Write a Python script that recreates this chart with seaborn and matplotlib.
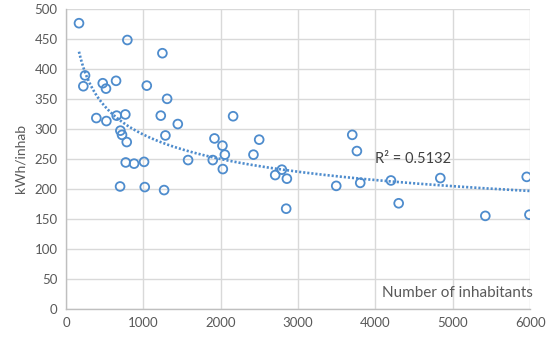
import numpy as np
import pandas as pd
import matplotlib
matplotlib.use('Agg')
import matplotlib.pyplot as plt
import seaborn as sns

# inhabitants and consumption per inhabitant
inhabitants = [168, 793, 1246, 246, 224, 475, 517, 647, 1044, 1307,
               392, 522, 655, 767, 1225, 1445, 2160, 703, 724, 785,
               1285, 1919, 2022, 2053, 772, 880, 1009, 1578, 1897, 2027,
               699, 1018, 1268, 2497, 2423, 2704, 2790, 2855, 2846, 3493,
               3700, 3760, 3803, 4200, 4300, 4838, 5420, 5955, 5990]
kwh_per_inhab = [476, 448, 426, 389, 371, 376, 367, 380, 372, 350,
                 318, 313, 322, 324, 322, 308, 321, 297, 290, 278,
                 289, 284, 272, 257, 244, 242, 245, 248, 248, 233,
                 204, 203, 198, 282, 257, 223, 232, 217, 167, 205,
                 290, 263, 210, 214, 176, 218, 155, 220, 157]
r2_label = "R\u00b2 = 0.5132"

sns.set_theme(style="whitegrid")
plt.rcParams['font.family'] = ['Lato', 'DejaVu Sans']

df = pd.DataFrame({'inhabitants': inhabitants, 'kwh': kwh_per_inhab})

fig = plt.figure(figsize=(5.5, 3.38), dpi=100)
ax = fig.add_axes([0.12, 0.086, 0.844, 0.888])

blue = '#4e8ccd'
sns.scatterplot(data=df, x='inhabitants', y='kwh', ax=ax, marker='o',
                s=40, facecolors='none', edgecolor=blue, linewidth=1.3, zorder=3)

# power trendline (log-log least squares), like the spreadsheet one
b, ln_a = np.polyfit(np.log(df['inhabitants']), np.log(df['kwh']), 1)
xs = np.linspace(df['inhabitants'].min(), df['inhabitants'].max(), 300)
ax.plot(xs, np.exp(ln_a) * xs ** b, color=blue, linestyle=(0, (0.8, 0.75)),
        linewidth=1.9, dash_capstyle='butt', zorder=2)

ax.set_xlim(0, 6000)
ax.set_ylim(0, 500)
ax.set_xticks(range(0, 6001, 1000))
ax.set_yticks(range(0, 501, 50))
ax.grid(color='#d9d9d9', linewidth=1)
for side in ['top', 'right']:
    ax.spines[side].set_visible(False)
for side in ['left', 'bottom']:
    ax.spines[side].set_color('#bfbfbf')
    ax.spines[side].set_linewidth(1)
ax.tick_params(labelsize=9.5, colors='#595959', length=0, pad=6)

ax.set_xlabel('')
ax.set_ylabel('kWh/inhab', fontsize=10, color='#595959', labelpad=6)
ax.text(1.006, 0.053, 'Number of inhabitants', transform=ax.transAxes,
        ha='right', va='center', fontsize=11, color='#595959')
ax.text(4000, 250, r2_label, fontsize=10.5, color='#404040', ha='left', va='center')

fig.savefig('out.png', dpi=100)
